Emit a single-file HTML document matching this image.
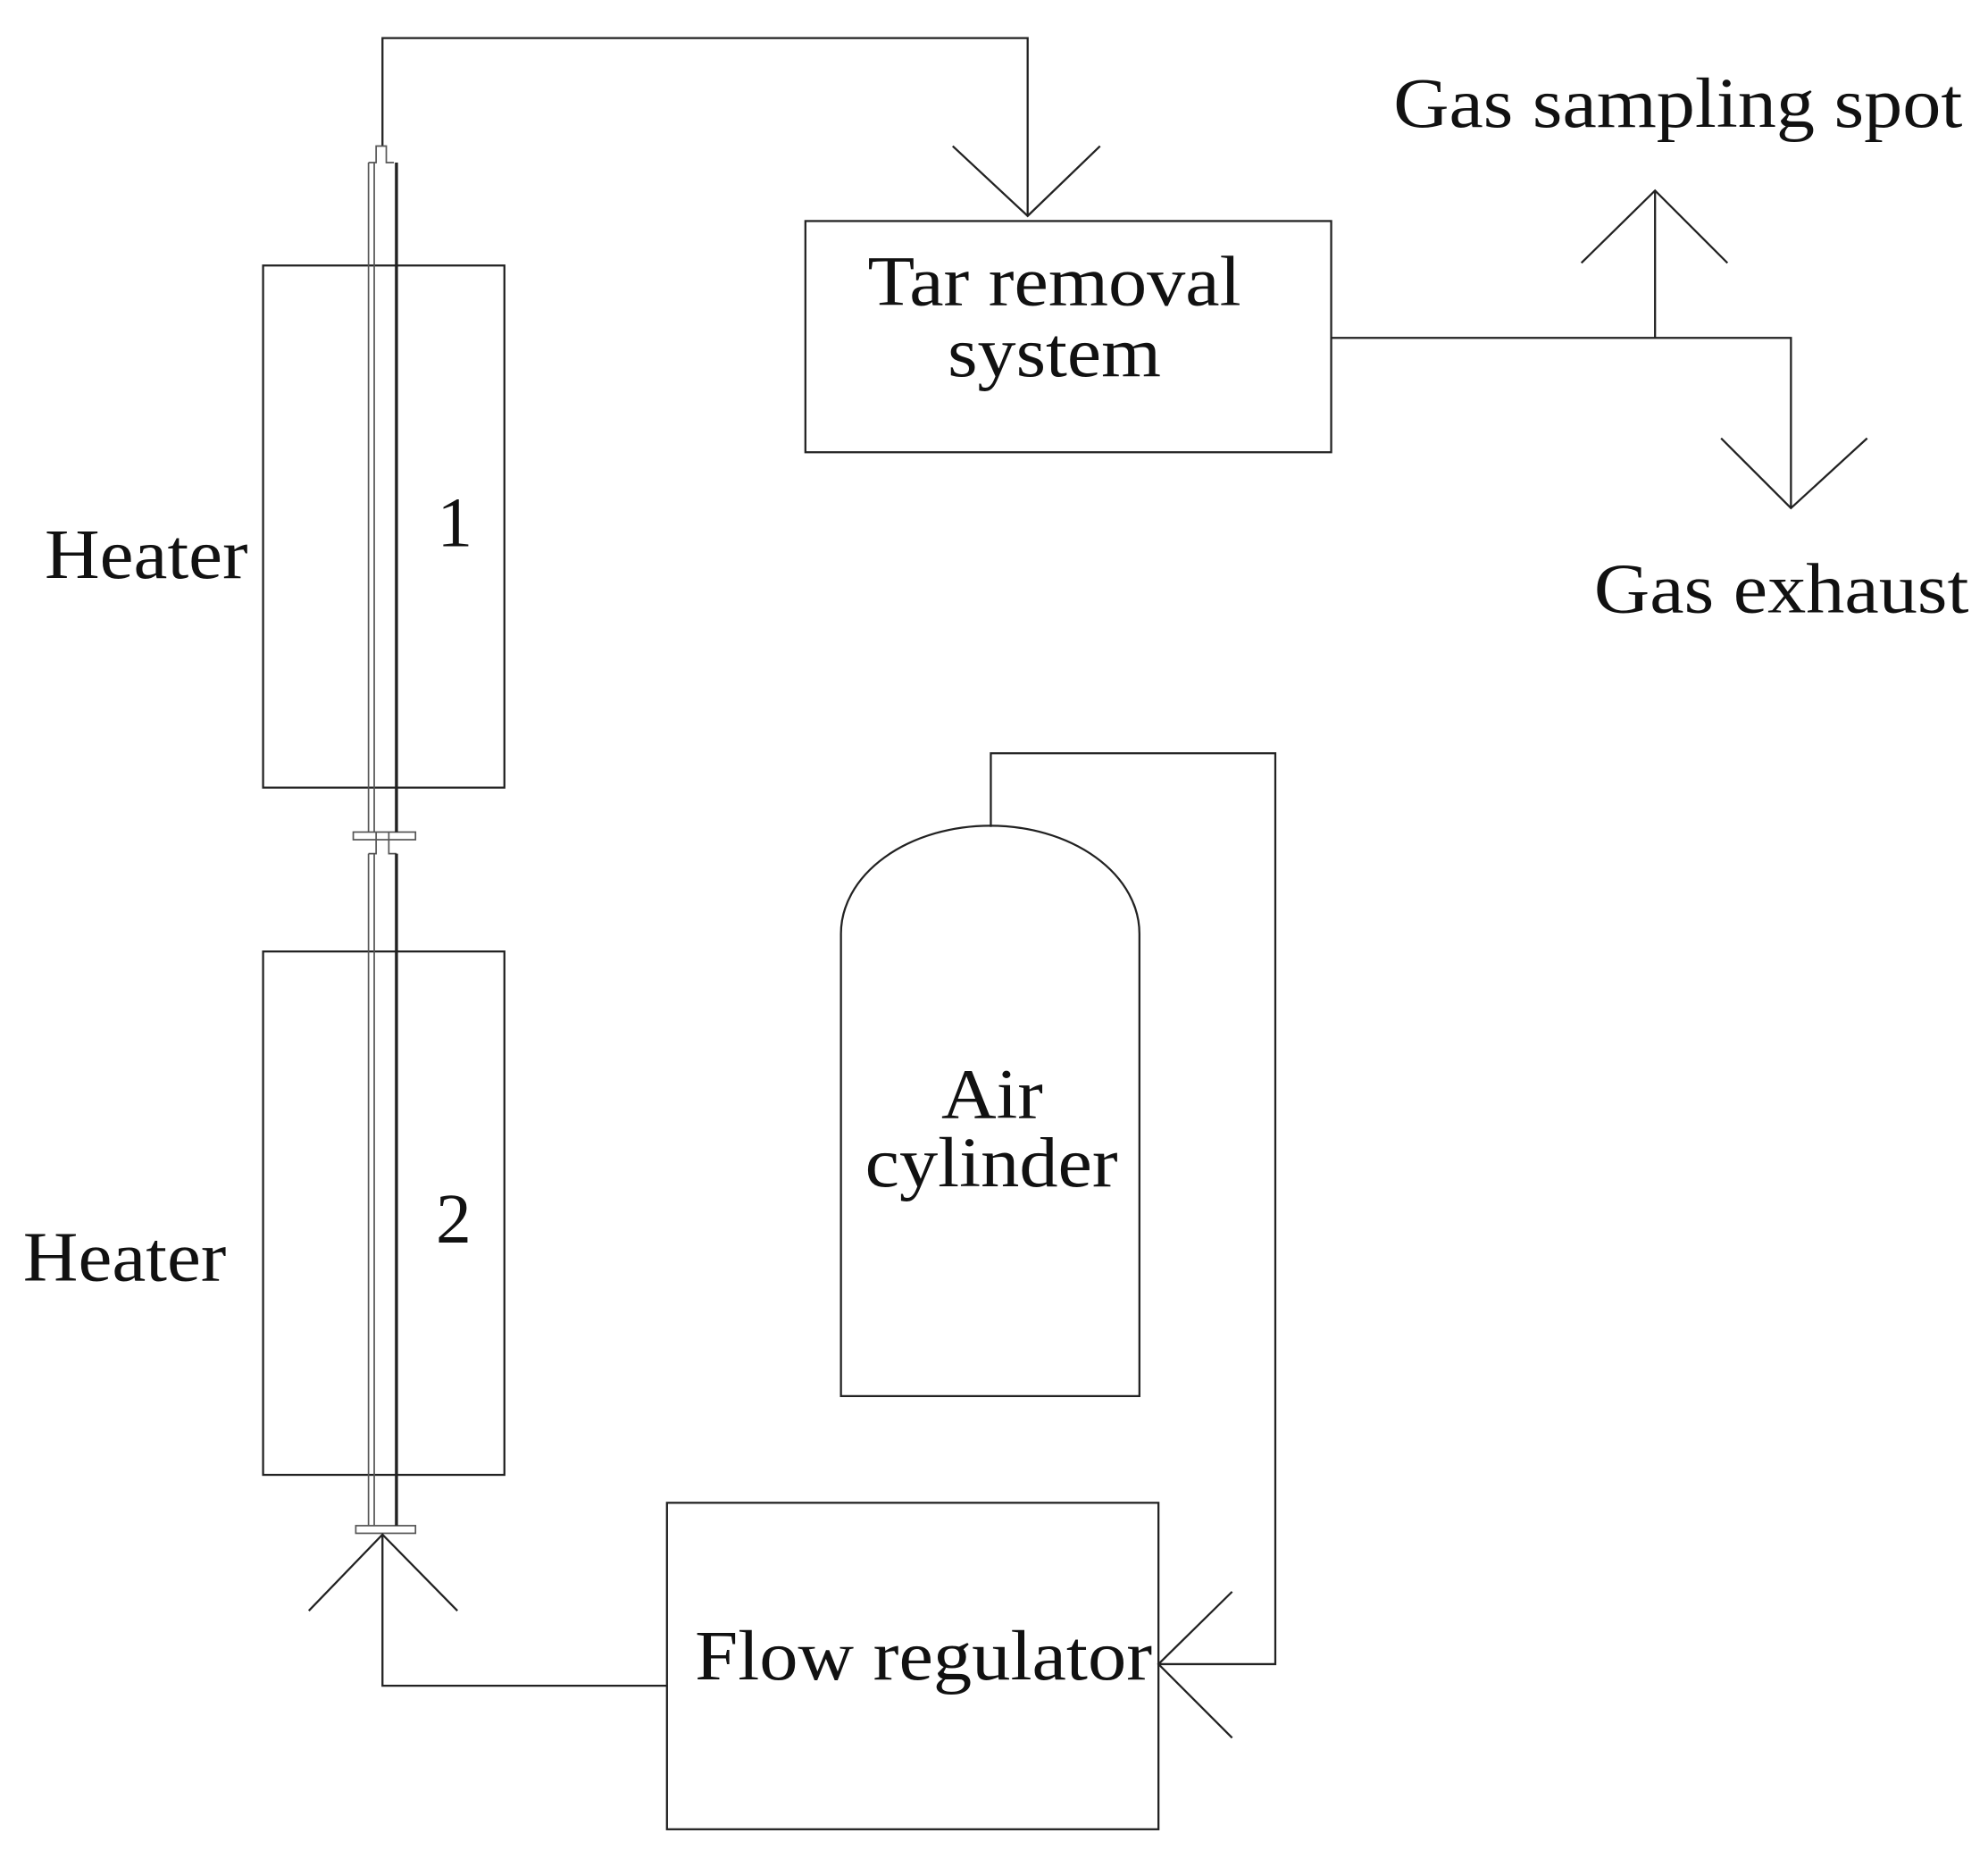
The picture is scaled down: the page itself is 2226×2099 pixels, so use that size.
<!DOCTYPE html>
<html><head><meta charset="utf-8"><style>html,body{margin:0;padding:0;background:#fff}svg{display:block}</style></head>
<body>
<svg width="2226" height="2099" viewBox="0 0 1565 1476" xmlns="http://www.w3.org/2000/svg">
<g fill="none" stroke="#222" stroke-width="1.6">
<polyline points="301,115 301,30 809,30 809,170"/>
<polyline points="750,115 809,170 866,115"/>
<rect x="207" y="209" width="190" height="411"/>
<rect x="207" y="749" width="190" height="412"/>
<g stroke="#555" stroke-width="1.2">
<line x1="290" y1="128" x2="290" y2="655"/>
<line x1="294.5" y1="128" x2="294.5" y2="655"/>
<line x1="290" y1="672" x2="290" y2="1201"/>
<line x1="294.5" y1="672" x2="294.5" y2="1201"/>
<polyline points="290,128 296,128 296,115 304,115 304,128 310,128"/>
<polyline points="296,655 296,672 290,672"/>
<polyline points="306,655 306,672 312,672"/>
<rect x="278" y="655" width="49" height="6"/>
<rect x="280" y="1201" width="47" height="6"/>
</g>
<line x1="312" y1="128" x2="312" y2="655" stroke-width="2.4"/>
<line x1="312" y1="672" x2="312" y2="1201" stroke-width="2.4"/>
<polyline points="301,1208 301,1327 525,1327"/>
<polyline points="243,1268 301,1208 360,1268"/>
<rect x="525" y="1183" width="387" height="257"/>
<polyline points="970,1253 912,1310 970,1368"/>
<polyline points="912,1310 1004,1310 1004,593 780,593 780,651"/>
<path d="M662,1099 L662,735 A117.5,85 0 0 1 897,735 L897,1099 Z"/>
<rect x="634" y="174" width="414" height="182"/>
<polyline points="1048,266 1410,266 1410,400"/>
<polyline points="1355,345 1410,400 1470,345"/>
<line x1="1303" y1="266" x2="1303" y2="150"/>
<polyline points="1245,207 1303,150 1360,207"/>
</g>
<g font-family="Liberation Serif, serif" font-size="56" fill="#111">
<text x="35" y="455" textLength="160" lengthAdjust="spacingAndGlyphs">Heater</text>
<text x="18" y="1008" textLength="160" lengthAdjust="spacingAndGlyphs">Heater</text>
<text x="344" y="430">1</text>
<text x="343" y="978">2</text>
<text x="683" y="240" textLength="294" lengthAdjust="spacingAndGlyphs">Tar removal</text>
<text x="746" y="296" textLength="168" lengthAdjust="spacingAndGlyphs">system</text>
<text x="1097" y="100" textLength="448" lengthAdjust="spacingAndGlyphs">Gas sampling spot</text>
<text x="1255" y="482" textLength="295" lengthAdjust="spacingAndGlyphs">Gas exhaust</text>
<text x="741" y="880" textLength="80" lengthAdjust="spacingAndGlyphs">Air</text>
<text x="681" y="934" textLength="199" lengthAdjust="spacingAndGlyphs">cylinder</text>
<text x="547" y="1322" textLength="360" lengthAdjust="spacingAndGlyphs">Flow regulator</text>
</g>
</svg>
</body></html>
